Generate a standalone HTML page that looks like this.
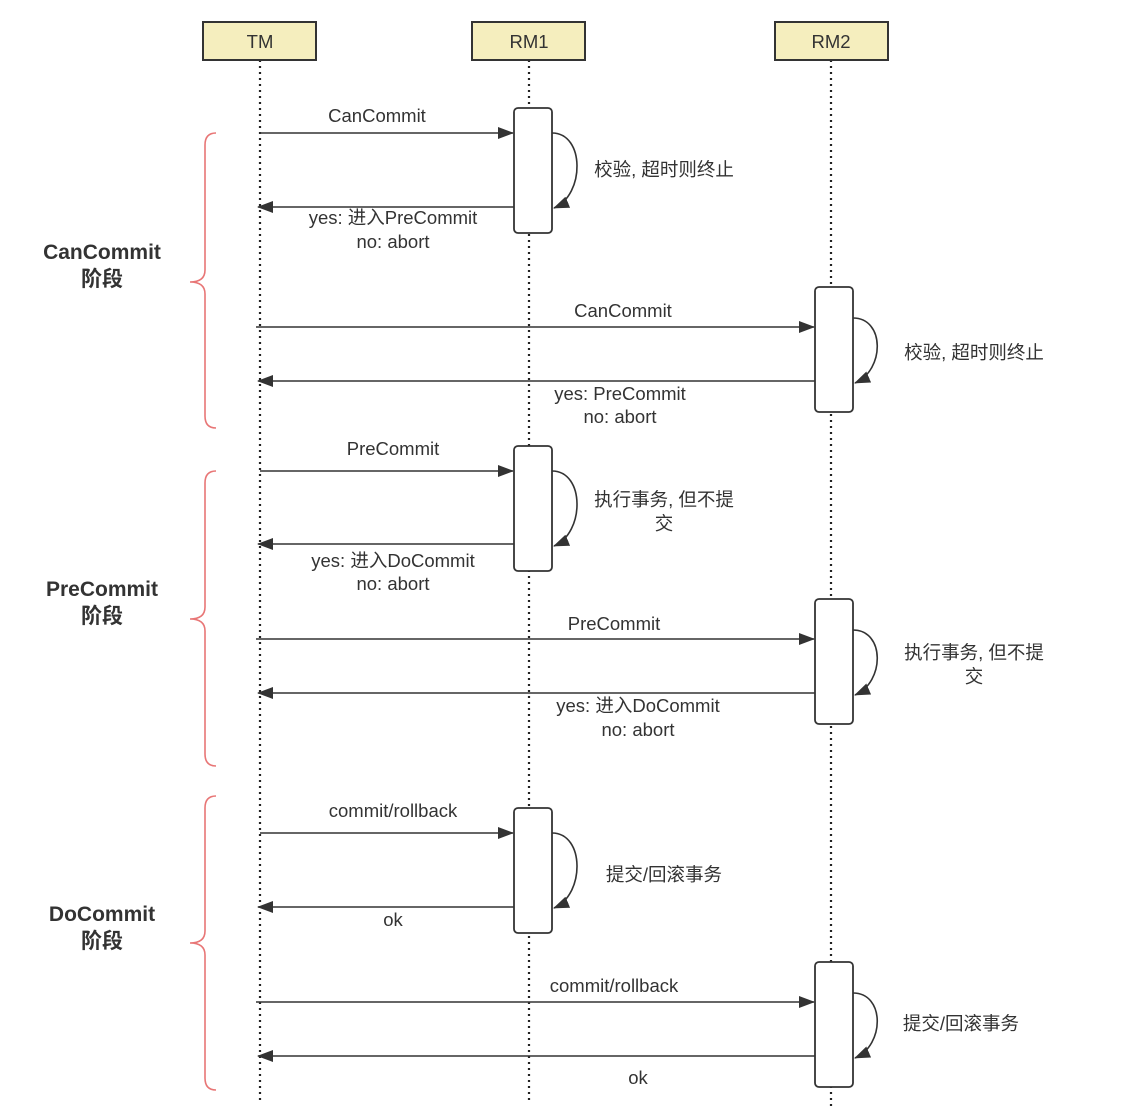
<!DOCTYPE html>
<html><head><meta charset="utf-8"><style>
html,body{margin:0;padding:0;background:#fff;}
svg{display:block;}
text{font-family:"Liberation Sans","Noto Sans CJK SC",sans-serif;fill:#333;font-size:18.5px;}
.b{font-size:21px;font-weight:bold;}
</style></head><body>
<svg width="1132" height="1107" viewBox="0 0 1132 1107" xmlns="http://www.w3.org/2000/svg">
<defs>
<marker id="a" markerWidth="16" markerHeight="12" refX="15" refY="6" orient="auto" markerUnits="userSpaceOnUse">
<path d="M0,0 L16,6 L0,12 z" fill="#333"/></marker>
</defs>
<g stroke="#222" stroke-width="2.2" stroke-dasharray="2,4">
<line x1="260" y1="60" x2="260" y2="1102"/>
<line x1="529" y1="60" x2="529" y2="1102"/>
<line x1="831" y1="60" x2="831" y2="1107"/>
</g>
<g fill="#f5eebe" stroke="#333" stroke-width="2">
<rect x="203" y="22" width="113" height="38"/>
<rect x="472" y="22" width="113" height="38"/>
<rect x="775" y="22" width="113" height="38"/>
</g>
<text x="260" y="48" text-anchor="middle" font-size="20">TM</text>
<text x="529" y="48" text-anchor="middle" font-size="20">RM1</text>
<text x="831" y="48" text-anchor="middle" font-size="20">RM2</text>
<g fill="none" stroke="#e87676" stroke-width="1.6">
<path d="M216,133 Q205,133 205,145 L205,270 Q205,282 190,282 Q205,282 205,294 L205,416 Q205,428 216,428"/>
<path d="M216,471 Q205,471 205,483 L205,607 Q205,619 190,619 Q205,619 205,631 L205,754 Q205,766 216,766"/>
<path d="M216,796 Q205,796 205,808 L205,931 Q205,943 190,943 Q205,943 205,955 L205,1078 Q205,1090 216,1090"/>
</g>
<text class="b" x="102" y="259" text-anchor="middle">CanCommit</text>
<text class="b" x="102" y="286" text-anchor="middle">阶段</text>
<text class="b" x="102" y="596" text-anchor="middle">PreCommit</text>
<text class="b" x="102" y="623" text-anchor="middle">阶段</text>
<text class="b" x="102" y="921" text-anchor="middle">DoCommit</text>
<text class="b" x="102" y="948" text-anchor="middle">阶段</text>
<g stroke="#333" stroke-width="1.6" fill="none" marker-end="url(#a)">
<line x1="260" y1="133" x2="513" y2="133"/>
<line x1="514" y1="207" x2="258" y2="207"/>
<line x1="256" y1="327" x2="814" y2="327"/>
<line x1="815" y1="381" x2="258" y2="381"/>
<line x1="260" y1="471" x2="513" y2="471"/>
<line x1="514" y1="544" x2="258" y2="544"/>
<line x1="256" y1="639" x2="814" y2="639"/>
<line x1="815" y1="693" x2="258" y2="693"/>
<line x1="260" y1="833" x2="513" y2="833"/>
<line x1="514" y1="907" x2="258" y2="907"/>
<line x1="256" y1="1002" x2="814" y2="1002"/>
<line x1="815" y1="1056" x2="258" y2="1056"/>
<path d="M552,133 C585,133 585,195 554,208"/>
<path d="M552,471 C585,471 585,533 554,546"/>
<path d="M552,833 C585,833 585,895 554,908"/>
<path d="M853,318 C885,318 885,370 855,383"/>
<path d="M853,630 C885,630 885,682 855,695"/>
<path d="M853,993 C885,993 885,1045 855,1058"/>
</g>
<g fill="#fff" stroke="#333" stroke-width="1.8">
<rect x="514" y="108" width="38" height="125" rx="4"/>
<rect x="815" y="287" width="38" height="125" rx="4"/>
<rect x="514" y="446" width="38" height="125" rx="4"/>
<rect x="815" y="599" width="38" height="125" rx="4"/>
<rect x="514" y="808" width="38" height="125" rx="4"/>
<rect x="815" y="962" width="38" height="125" rx="4"/>
</g>
<g text-anchor="middle">
<text x="377" y="122">CanCommit</text>
<text x="393" y="224">yes: 进入PreCommit</text>
<text x="393" y="248">no: abort</text>
<text x="623" y="317">CanCommit</text>
<text x="620" y="400">yes: PreCommit</text>
<text x="620" y="423">no: abort</text>
<text x="393" y="455">PreCommit</text>
<text x="393" y="567">yes: 进入DoCommit</text>
<text x="393" y="590">no: abort</text>
<text x="614" y="630">PreCommit</text>
<text x="638" y="712">yes: 进入DoCommit</text>
<text x="638" y="736">no: abort</text>
<text x="393" y="817">commit/rollback</text>
<text x="393" y="926">ok</text>
<text x="614" y="992">commit/rollback</text>
<text x="638" y="1084">ok</text>
<text x="664" y="176">校验, 超时则终止</text>
<text x="974" y="359">校验, 超时则终止</text>
<text x="664" y="506">执行事务, 但不提</text>
<text x="664" y="530">交</text>
<text x="974" y="659">执行事务, 但不提</text>
<text x="974" y="683">交</text>
<text x="664" y="881">提交/回滚事务</text>
<text x="961" y="1030">提交/回滚事务</text>
</g>
</svg>
</body></html>
